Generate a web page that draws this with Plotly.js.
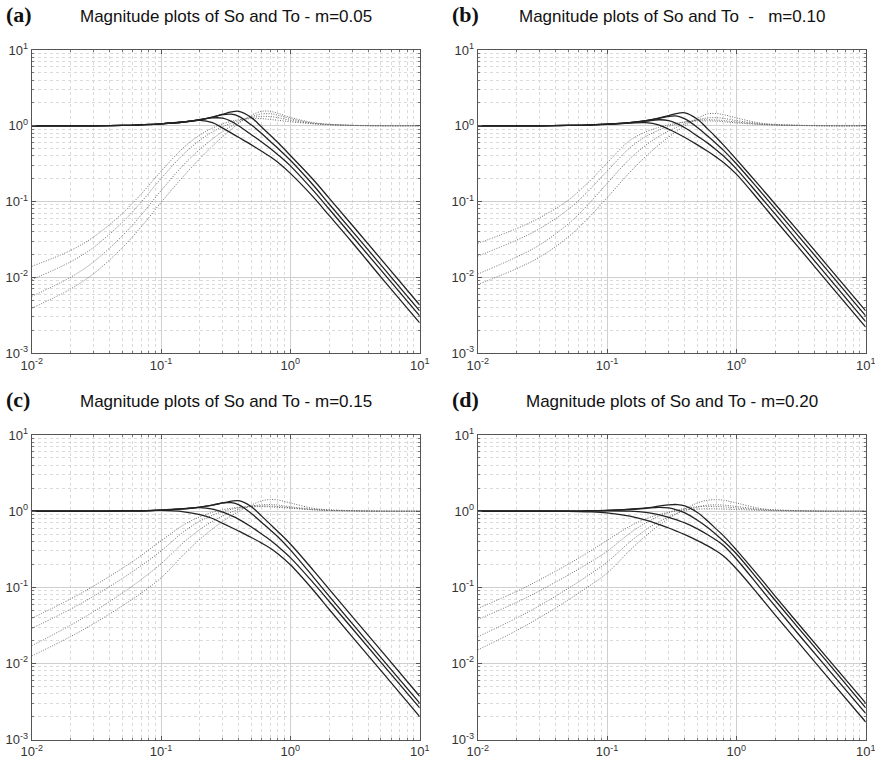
<!DOCTYPE html>
<html><head><meta charset="utf-8">
<script src="https://cdn.plot.ly/plotly-3.0.1.min.js"></script>
<style>html,body{margin:0;padding:0;background:#fff}#plot{width:875px;height:764px}</style>
</head><body><div id="plot"></div>
<script>
// frequency grid (rad/s)
const freq = [0.01,0.02,0.03,0.05,0.07,0.1,0.15,0.2,0.25,0.3,0.35,0.4,0.5,0.6,0.7,0.8,1,1.5,2,3,5,10];

// panel (a) m=0.05 : |To| (solid) and |So| (dotted)
const tA1 = [1,1,1,1.01,1.03,1.06,1.12,1.2,1.3,1.42,1.52,1.55,1.28,0.96,0.75,0.6,0.405,0.195,0.11,0.049,0.0175,0.0043];
const tA2 = [1,1,1,1.01,1.03,1.06,1.12,1.2,1.3,1.4,1.42,1.33,1.02,0.79,0.62,0.505,0.35,0.165,0.092,0.041,0.0146,0.0036];
const tA3 = [1,1,1,1.01,1.03,1.06,1.12,1.2,1.27,1.26,1.14,0.99,0.76,0.61,0.5,0.415,0.295,0.14,0.079,0.035,0.0125,0.0031];
const tA4 = [1,1,1,1.01,1.03,1.06,1.13,1.18,1.1,0.93,0.8,0.7,0.56,0.46,0.39,0.33,0.235,0.115,0.065,0.029,0.0101,0.0025];
const sA1 = [0.0139,0.0226,0.0339,0.0693,0.125,0.25,0.519,0.755,0.933,1.06,1.145,1.2,1.24,1.24,1.21,1.18,1.13,1.06,1.03,1.01,1.0,1.0];
const sA2 = [0.0093,0.016,0.0247,0.0527,0.0976,0.201,0.4255,0.645,0.83,0.97,1.08,1.17,1.28,1.33,1.32,1.28,1.18,1.07,1.035,1.01,1.0,1.0];
const sA3 = [0.0056,0.01,0.0159,0.035,0.066,0.139,0.307,0.49,0.67,0.84,0.99,1.12,1.32,1.43,1.44,1.38,1.24,1.08,1.04,1.01,1.0,1.0];
const sA4 = [0.0039,0.007,0.0111,0.0244,0.046,0.097,0.218,0.37,0.54,0.72,0.9,1.08,1.38,1.55,1.55,1.46,1.29,1.1,1.045,1.015,1.0,1.0];

// panel (b) m=0.10
const tB1 = [1,1,1,1.01,1.02,1.05,1.1,1.17,1.26,1.36,1.46,1.48,1.22,0.91,0.7,0.55,0.36,0.163,0.092,0.041,0.0146,0.0036];
const tB2 = [1,1,1,1.01,1.02,1.05,1.1,1.17,1.25,1.33,1.34,1.23,0.95,0.73,0.58,0.47,0.315,0.142,0.08,0.0355,0.0126,0.0031];
const tB3 = [1,1,1,1.01,1.02,1.05,1.1,1.15,1.2,1.17,1.06,0.94,0.73,0.59,0.48,0.395,0.27,0.121,0.068,0.0298,0.0106,0.0026];
const tB4 = [1,1,1,1.01,1.02,1.04,1.08,1.1,1.03,0.9,0.79,0.7,0.56,0.46,0.385,0.325,0.23,0.103,0.057,0.0252,0.0089,0.0022];
const sB1 = [0.028,0.0439,0.0608,0.104,0.172,0.322,0.641,0.831,0.95,1.031,1.087,1.124,1.154,1.158,1.15,1.13,1.09,1.04,1.02,1.01,1.0,1.0];
const sB2 = [0.019,0.0309,0.0436,0.0785,0.132,0.251,0.511,0.722,0.873,0.983,1.062,1.12,1.184,1.2,1.19,1.17,1.12,1.05,1.025,1.01,1.0,1.0];
const sB3 = [0.011,0.0185,0.0266,0.0504,0.0878,0.173,0.366,0.556,0.719,0.854,0.966,1.061,1.2,1.267,1.277,1.25,1.17,1.07,1.035,1.01,1.0,1.0];
const sB4 = [0.008,0.013,0.0184,0.0339,0.0581,0.112,0.243,0.396,0.553,0.708,0.858,1.0,1.25,1.434,1.45,1.4,1.27,1.09,1.04,1.015,1.0,1.0];

// panel (c) m=0.15
const tC1 = [1,1,1,1.005,1.01,1.03,1.07,1.13,1.2,1.28,1.35,1.37,1.14,0.86,0.67,0.54,0.37,0.168,0.094,0.0415,0.0149,0.0037];
const tC2 = [1,1,1,1.005,1.01,1.03,1.07,1.13,1.2,1.28,1.29,1.21,0.93,0.71,0.565,0.46,0.31,0.137,0.076,0.0336,0.012,0.003];
const tC3 = [1,1,1,1.005,1.01,1.03,1.08,1.11,1.06,0.97,0.87,0.78,0.62,0.5,0.415,0.345,0.245,0.115,0.065,0.0289,0.0104,0.0026];
const tC4 = [1,1,1,1.005,1.01,1.02,0.98,0.9,0.8,0.69,0.61,0.545,0.45,0.38,0.325,0.275,0.197,0.092,0.051,0.0225,0.0081,0.002];
const sC1 = [0.039,0.0703,0.1034,0.1768,0.2604,0.4068,0.662,0.845,0.966,1.043,1.092,1.121,1.141,1.145,1.14,1.12,1.09,1.04,1.02,1.01,1.0,1.0];
const sC2 = [0.0287,0.0517,0.076,0.13,0.1916,0.2994,0.539,0.739,0.883,0.986,1.057,1.107,1.158,1.168,1.165,1.15,1.11,1.045,1.02,1.01,1.0,1.0];
const sC3 = [0.017,0.0317,0.0476,0.0834,0.1258,0.2037,0.39,0.575,0.735,0.865,0.972,1.055,1.167,1.21,1.22,1.2,1.14,1.06,1.03,1.01,1.0,1.0];
const sC4 = [0.0125,0.0225,0.0331,0.0567,0.0834,0.1328,0.27,0.428,0.585,0.734,0.87,0.994,1.202,1.366,1.419,1.4,1.28,1.09,1.04,1.015,1.0,1.0];

// panel (d) m=0.20
const tD1 = [1,1,1,1.0,1.005,1.02,1.06,1.1,1.16,1.21,1.22,1.17,0.96,0.74,0.58,0.47,0.31,0.138,0.076,0.0334,0.012,0.003];
const tD2 = [1,1,1,1.0,1.005,1.02,1.05,1.09,1.12,1.1,1.03,0.95,0.76,0.61,0.49,0.4,0.275,0.121,0.067,0.0295,0.0106,0.0026];
const tD3 = [1,1,1,1.0,1.005,1.01,1.0,0.96,0.9,0.83,0.76,0.7,0.585,0.49,0.415,0.35,0.235,0.102,0.056,0.0245,0.0088,0.0022];
const tD4 = [1,1,1,0.995,0.98,0.95,0.86,0.76,0.67,0.6,0.54,0.49,0.41,0.35,0.3,0.255,0.175,0.078,0.043,0.019,0.0068,0.0017];
const sD1 = [0.0525,0.0883,0.1247,0.2005,0.2807,0.4127,0.631,0.795,0.899,0.967,1.013,1.04,1.064,1.07,1.07,1.065,1.05,1.025,1.01,1.005,1.0,1.0];
const sD2 = [0.0377,0.0634,0.0896,0.144,0.2016,0.2964,0.512,0.703,0.85,0.957,1.034,1.088,1.142,1.155,1.15,1.14,1.1,1.04,1.02,1.01,1.0,1.0];
const sD3 = [0.0223,0.0394,0.0572,0.0962,0.1393,0.2137,0.3926,0.571,0.7215,0.843,0.939,1.015,1.135,1.199,1.208,1.2,1.15,1.06,1.03,1.01,1.0,1.0];
const sD4 = [0.015,0.027,0.0398,0.068,0.0991,0.1531,0.305,0.4764,0.644,0.802,0.943,1.07,1.28,1.39,1.412,1.39,1.28,1.09,1.04,1.015,1.0,1.0];

const panelTitles = [
  'Magnitude plots of So and To - m=0.05',
  'Magnitude plots of So and To \u00A0-\u00A0\u00A0\u00A0m=0.10',
  'Magnitude plots of So and To - m=0.15',
  'Magnitude plots of So and To - m=0.20'
];
const panelLabels = ['(a)','(b)','(c)','(d)'];
const xTickVals = [0.01,0.1,1,10];
const xTickText = ['10<sup>-2</sup>','10<sup>-1</sup>','10<sup>0</sup>','10<sup>1</sup>'];
const yTickVals = [0.001,0.01,0.1,1,10];
const yTickText = ['10<sup>-3</sup>','10<sup>-2</sup>','10<sup>-1</sup>','10<sup>0</sup>','10<sup>1</sup>'];

const W = 875, H = 764;
const boxes = [ // pixel boxes [left,right,top,bottom]
  [31.7,419.7,50,353],
  [477.7,865.7,50,353],
  [31.7,419.7,435,739.5],
  [477.7,865.7,435,739.5]
];
const panelsT = [[tA1,tA2,tA3,tA4],[tB1,tB2,tB3,tB4],[tC1,tC2,tC3,tC4],[tD1,tD2,tD3,tD4]];
const panelsS = [[sA1,sA2,sA3,sA4],[sB1,sB2,sB3,sB4],[sC1,sC2,sC3,sC4],[sD1,sD2,sD3,sD4]];

function minorVals(){const v=[];for(let e=-3;e<=0;e++){for(let k=2;k<=9;k++){v.push(k*Math.pow(10,e));}}return v;}
const minors = minorVals();

const traces = [];
const layout = {
  width: W, height: H, margin:{l:0,r:0,t:0,b:0},
  paper_bgcolor:'#fff', plot_bgcolor:'#fff', showlegend:false,
  font:{family:'Liberation Sans, Arial, sans-serif', color:'#333', size:13},
  annotations: []
};
for (let p=0;p<4;p++){
  const sfx = p===0?'':String(p+1);
  const [l,r,t,b] = boxes[p];
  const common = {
    type:'log', showline:true, linecolor:'#555', linewidth:1, mirror:'allticks',
    ticks:'inside', ticklen:4, tickcolor:'#555', showgrid:true, gridcolor:'#cfcfcf', gridwidth:1,
    zeroline:false, ticklabeloverflow:'allow',
    tickfont:{family:'Liberation Sans, Arial, sans-serif', size:13, color:'#333'},
    minor:{tickmode:'array', tickvals:minors, showgrid:true, gridcolor:'#dadada', griddash:'dot', ticks:'inside', ticklen:2, tickcolor:'#777'},
    fixedrange:true
  };
  layout['xaxis'+sfx] = Object.assign({}, common, {
    domain:[l/W, r/W], anchor:'y'+sfx, range:[-2,1],
    tickmode:'array', tickvals:xTickVals, ticktext:xTickText
  });
  layout['yaxis'+sfx] = Object.assign({}, common, {
    domain:[1-b/H, 1-t/H], anchor:'x'+sfx, range:[-3,1],
    tickmode:'array', tickvals:yTickVals, ticktext:yTickText
  });
  for (const s of panelsS[p]) {
    traces.push({x:freq, y:s, xaxis:'x'+sfx, yaxis:'y'+sfx, mode:'lines',
      line:{color:'#6a6a6a', width:1, dash:'1px,1.5px', shape:'spline', smoothing:1}, hoverinfo:'skip'});
  }
  for (const s of panelsT[p]) {
    traces.push({x:freq, y:s, xaxis:'x'+sfx, yaxis:'y'+sfx, mode:'lines',
      line:{color:'#222', width:1.3, shape:'spline', smoothing:1}, hoverinfo:'skip'});
  }
  layout.annotations.push({xref:'paper', yref:'paper', x:(l+r)/2/W, y:1-(t-34)/H,
    xanchor:'center', yanchor:'middle', showarrow:false, text:panelTitles[p],
    font:{family:'Liberation Sans, Arial, sans-serif', size:17, color:'#111'}});
  layout.annotations.push({xref:'paper', yref:'paper', x:(l-28)/W, y:1-(t-50)/H,
    xanchor:'left', yanchor:'top', showarrow:false, text:'<b>'+panelLabels[p]+'</b>',
    font:{family:'Liberation Serif, Times New Roman, serif', size:22, color:'#111'}});
}
Plotly.newPlot('plot', traces, layout, {staticPlot:true, displayModeBar:false});
</script></body></html>
